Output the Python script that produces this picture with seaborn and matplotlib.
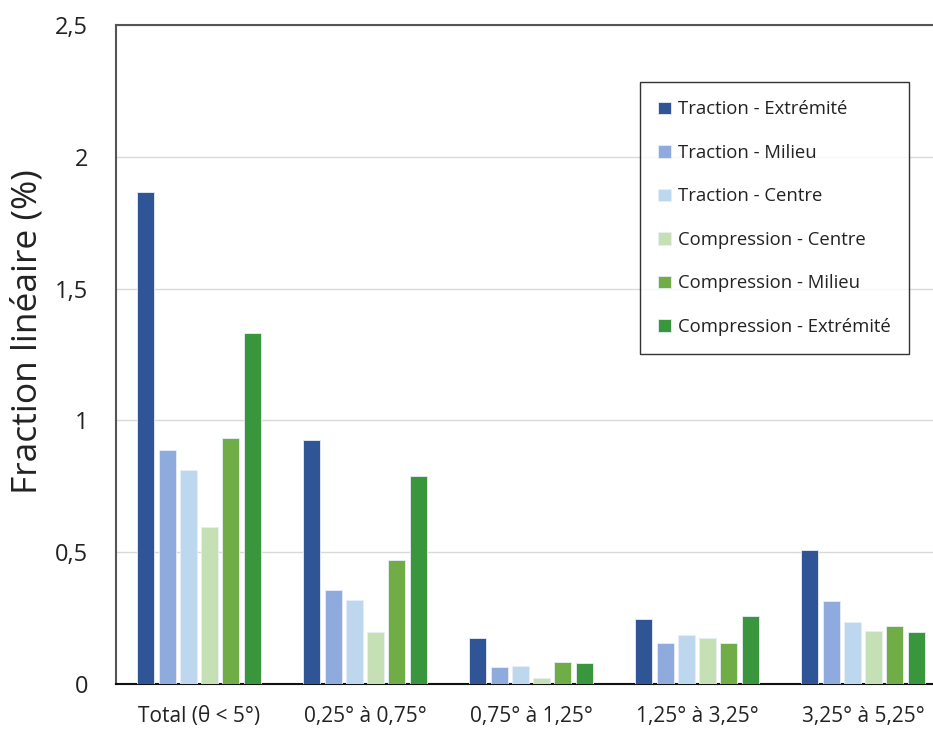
import numpy as np
import pandas as pd
import matplotlib
matplotlib.use("Agg")
import matplotlib.pyplot as plt
import seaborn as sns

# ==============================
# DATA
# ==============================
categories = ["Total (θ < 5°)", "0,25° à 0,75°", "0,75° à 1,25°", "1,25° à 3,25°", "3,25° à 5,25°"]
series_names = ["Traction - Extrémité", "Traction - Milieu", "Traction - Centre",
                "Compression - Centre", "Compression - Milieu", "Compression - Extrémité"]
traction_extremite = [1.866, 0.927, 0.176, 0.247, 0.508]
traction_milieu = [0.889, 0.357, 0.063, 0.155, 0.314]
traction_centre = [0.813, 0.319, 0.068, 0.186, 0.237]
compression_centre = [0.597, 0.198, 0.023, 0.176, 0.201]
compression_milieu = [0.935, 0.471, 0.084, 0.155, 0.221]
compression_extremite = [1.330, 0.790, 0.079, 0.258, 0.196]
y_ticks = [0, 0.5, 1, 1.5, 2, 2.5]
y_tick_labels = ["0", "0,5", "1", "1,5", "2", "2,5"]

colors = ["#2F5597", "#8FAADC", "#BDD7EE", "#C5E0B4", "#70AD47", "#3A963C"]

all_values = [traction_extremite, traction_milieu, traction_centre,
              compression_centre, compression_milieu, compression_extremite]
rows = []
for name, vals in zip(series_names, all_values):
    for cat, v in zip(categories, vals):
        rows.append({"cat": cat, "serie": name, "val": v})
df = pd.DataFrame(rows)

# ==============================
# PLOT
# ==============================
sns.set_style("white")
plt.rcParams['font.family'] = ['Open Sans', 'DejaVu Sans']

fig = plt.figure(figsize=(9.33, 7.29), dpi=100)
ax = fig.add_axes([116 / 933, 45 / 729, 830 / 933, 659 / 729])

sns.barplot(data=df, x="cat", y="val", hue="serie", order=categories,
            hue_order=series_names, palette=colors, saturation=1,
            width=0.77, gap=0.2, edgecolor="#e8eef6", linewidth=0.6,
            ax=ax, zorder=3)

ax.set_ylim(0, 2.5)
ax.set_xlim(-0.5, len(categories) - 0.5)
ax.set_yticks(y_ticks)
ax.set_yticklabels(y_tick_labels, fontsize=17, color="#222222")
ax.tick_params(axis="y", length=0, pad=20)
ax.tick_params(axis="x", length=0, pad=16, labelsize=15, labelcolor="#222222")
ax.yaxis.grid(True, color="#d9d9d9", linewidth=1, zorder=0)
ax.set_xlabel("")
ax.set_ylabel("Fraction linéaire (%)", fontsize=25.5, color="#222222")
ax.yaxis.set_label_coords(-0.086, 0.534)

for side in ["top", "left"]:
    ax.spines[side].set_color("#555555")
    ax.spines[side].set_linewidth(1.5)
ax.spines["bottom"].set_color("#111111")
ax.spines["bottom"].set_linewidth(1.5)
ax.spines["right"].set_visible(False)

leg = ax.legend(loc="upper left", bbox_to_anchor=(524 / 830, 1 - 57 / 659),
                frameon=True, fancybox=False, fontsize=13.3, labelspacing=1.38,
                handlelength=0.7, handleheight=0.7, handletextpad=0.35,
                borderpad=1.0, borderaxespad=0)
leg.get_frame().set_edgecolor("black")
leg.get_frame().set_linewidth(1.0)
for t in leg.get_texts():
    t.set_color("#222222")

fig.savefig("out.png", dpi=100)
